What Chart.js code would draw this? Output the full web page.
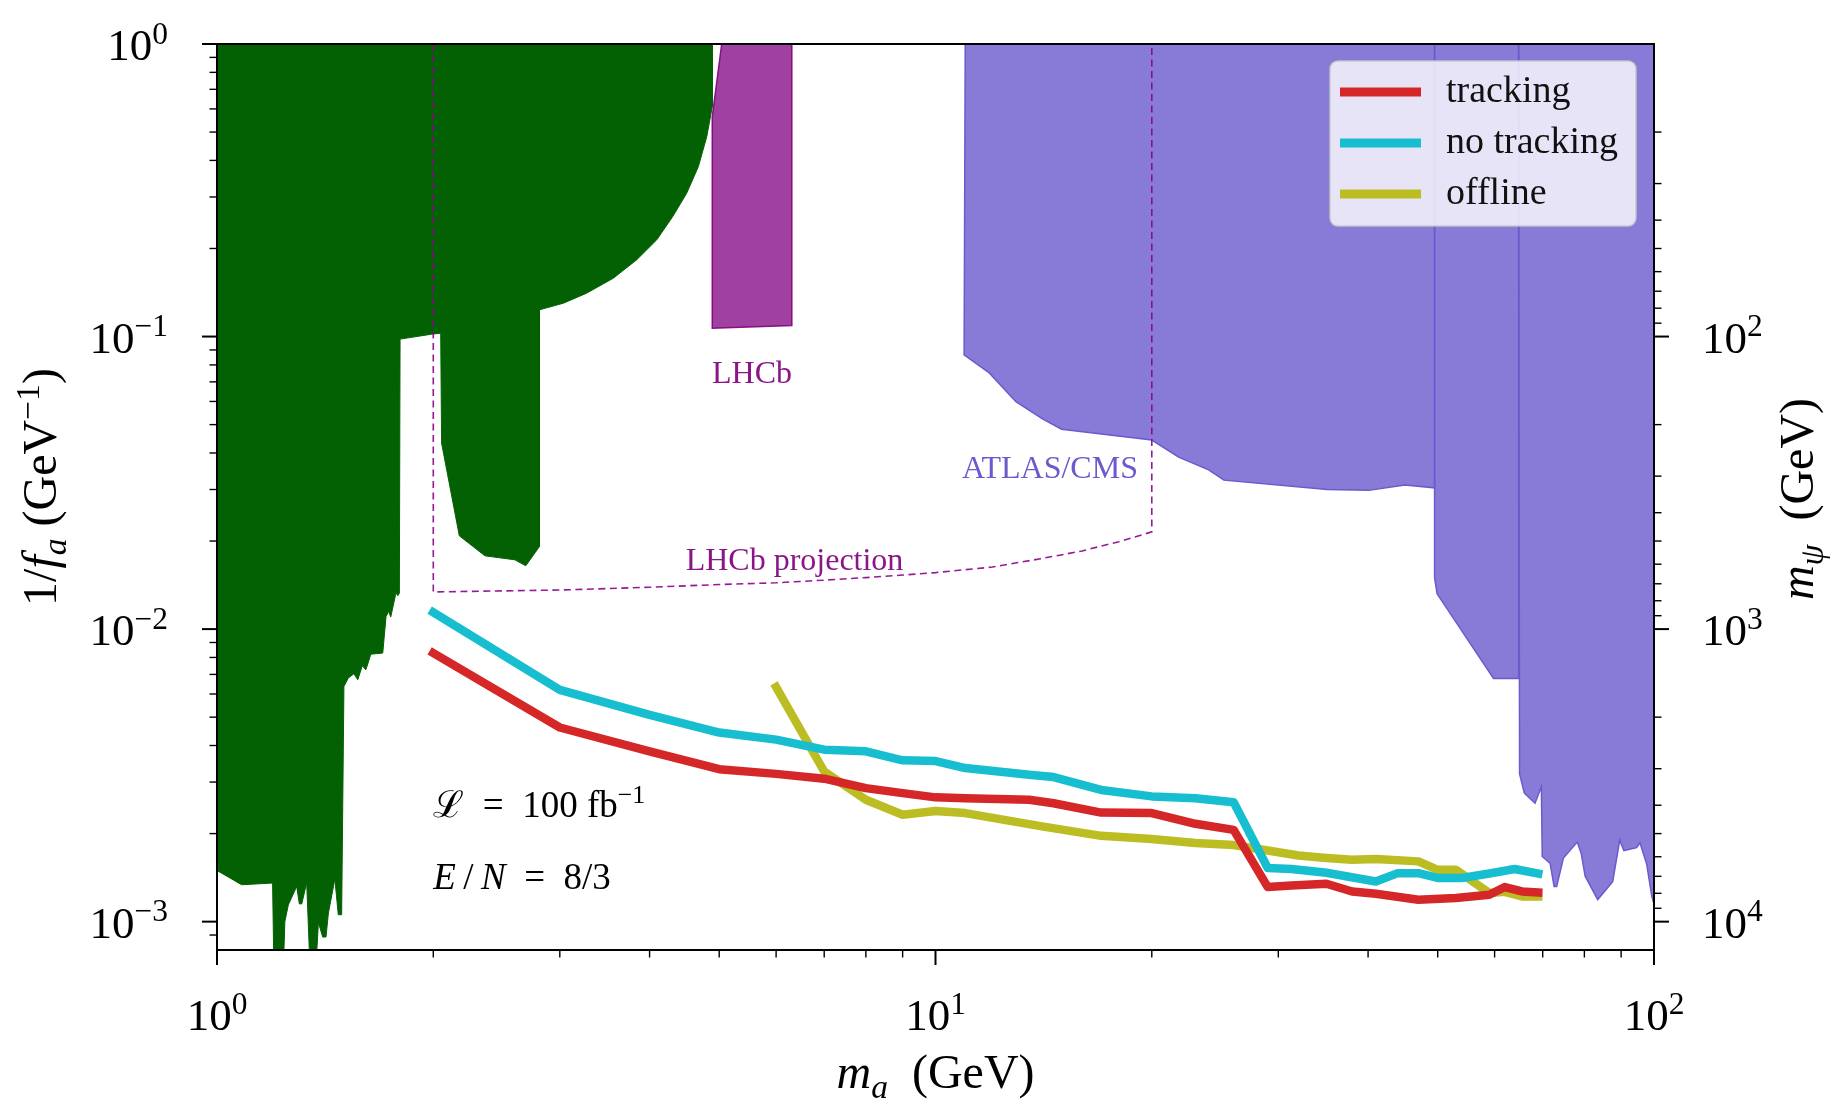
<!DOCTYPE html>
<html>
<head>
<meta charset="utf-8">
<title>Axion reach: 1/f_a versus m_a</title>
<script src="https://cdn.jsdelivr.net/npm/chart.js@4.4.0/dist/chart.umd.min.js"></script>
<style>
  html, body { margin: 0; padding: 0; background: #ffffff; }
  canvas { display: block; }
</style>
</head>
<body>
<canvas id="reach" width="1831" height="1103"></canvas>
<script>
// ---------------------------------------------------------------------------
// Projected reach on 1/f_a (GeV^-1) versus axion mass m_a (GeV)
// ---------------------------------------------------------------------------

// Trigger strategies (L = 100 fb^-1, E/N = 8/3)
const massTracking  = [2, 3, 4, 5, 6, 7, 8, 9, 10, 11, 13.5, 14.6, 17, 20, 23, 26, 29, 31.3, 35, 38, 41, 47, 53, 59, 62, 65.5, 69];
const reachTracking = [0.00828, 0.00461, 0.00382, 0.00332, 0.00320, 0.00308, 0.00286, 0.00275, 0.00266, 0.00264, 0.00261, 0.00254,
                       0.00236, 0.00235, 0.00216, 0.00206, 0.001313, 0.00133, 0.001347, 0.001268, 0.001245, 0.001188, 0.001204,
                       0.001236, 0.001313, 0.001268, 0.001258];

const massNoTracking  = [2, 3, 4, 5, 6, 7, 8, 9, 10, 11, 13.5, 14.6, 17, 20, 23, 26, 29, 31.3, 35, 41, 44, 47, 50, 54, 59, 64, 69];
const reachNoTracking = [0.0114, 0.0062, 0.00509, 0.00443, 0.00419, 0.00387, 0.00382, 0.00356, 0.00354, 0.00335, 0.00318, 0.00312,
                         0.00282, 0.00268, 0.00264, 0.00256, 0.001525, 0.001513, 0.00147, 0.001372, 0.001465, 0.001465, 0.00141,
                         0.00141, 0.00146, 0.001513, 0.00146];

const massOffline  = [6, 7, 8, 9, 10, 11, 14, 17, 20, 23, 26, 29, 32, 35, 38, 41, 47, 50, 53, 59, 62, 65.5, 69];
const reachOffline = [0.00634, 0.00326, 0.00261, 0.00232, 0.00239, 0.00235, 0.00212, 0.001965, 0.001916, 0.001856, 0.001827,
                      0.00175, 0.001683, 0.00165, 0.001627, 0.001637, 0.001607, 0.001504, 0.001504, 0.001252, 0.001265, 0.00122, 0.00122];

// LHCb projection (dashed contour)
const massLhcbProj  = [2, 2, 3, 4, 5, 6, 7, 8, 9, 10, 12, 14, 16, 18, 20, 20];
const reachLhcbProj = [1, 0.0134, 0.0136, 0.0139, 0.0142, 0.0144, 0.0147, 0.0150, 0.0153, 0.0156, 0.0163, 0.0174, 0.0185, 0.0199, 0.0215, 1];

// LHCb excluded band
const massLhcb  = [5.04, 4.89, 4.89, 6.31, 6.31];
const reachLhcb = [1, 0.565, 0.1068, 0.109, 1];

// ATLAS/CMS excluded regions (three overlapping patches)
const massAtlasA  = [11, 10.96, 11.88, 12.94, 14.09, 14.98, 20, 21.8, 24.0, 25.2, 35.1, 40.1, 45.0, 49.5, 49.5];
const reachAtlasA = [1, 0.0865, 0.0751, 0.0599, 0.0523, 0.0482, 0.0443, 0.0387, 0.0350, 0.0323, 0.0300, 0.0298, 0.0311, 0.0304, 1];

const massAtlasB  = [49.5, 49.5, 49.9, 59.8, 64.8, 64.8];
const reachAtlasB = [1, 0.0150, 0.0132, 0.00678, 0.00678, 1];

const massAtlasC  = [64.8, 65.0, 66.0, 68.3, 69.7, 69.9, 71.7, 72.6, 73.2, 74.8, 78.2, 79.2, 80.2, 83.5, 87.6, 89.6, 90.8,
                     94.6, 95.6, 97.7, 99.3, 100, 100];
const reachAtlasC = [1, 0.0032, 0.00275, 0.00254, 0.0029, 0.00167, 0.00158, 0.00132, 0.00132, 0.00165, 0.00187, 0.00171,
                     0.00143, 0.00119, 0.00137, 0.0019, 0.00175, 0.00179, 0.00186, 0.00157, 0.00122, 0.00115, 1];

// Existing low-mass constraints (green)
const massLowMass  = [1, 4.89, 4.89, 4.805, 4.677, 4.505, 4.308, 4.093, 3.838, 3.561, 3.269, 3.034, 2.81, 2.81, 2.69, 2.598,
                      2.36, 2.174, 2.054, 2.048, 1.99, 1.798, 1.794, 1.785, 1.775, 1.745, 1.734, 1.719, 1.701, 1.637, 1.624,
                      1.611, 1.593, 1.570, 1.551, 1.523, 1.502, 1.491, 1.475, 1.459, 1.429, 1.418, 1.403, 1.384, 1.373, 1.347,
                      1.333, 1.312, 1.302, 1.291, 1.257, 1.243, 1.237, 1.200, 1.195, 1.082, 1];
const reachLowMass = [1, 1, 0.611, 0.4826, 0.381, 0.309, 0.2571, 0.2141, 0.1829, 0.1583, 0.1407, 0.130, 0.1234, 0.01915,
                      0.01646, 0.01725, 0.0178, 0.02084, 0.0432, 0.1027, 0.1019, 0.098, 0.01327, 0.0130, 0.01334, 0.01099,
                      0.01149, 0.01104, 0.00828, 0.00821, 0.00769, 0.00726, 0.00749, 0.00671, 0.00704, 0.0068, 0.00637,
                      0.001056, 0.001056, 0.0014, 0.00107, 0.000886, 0.000886, 0.000994, 0.0007, 0.0007, 0.00136, 0.00115,
                      0.00115, 0.00132, 0.001142, 0.001002, 0.0007, 0.0007, 0.001355, 0.001337, 0.001496];

// Axis ticks and labels
const xMajorTicks  = [1, 10, 100];
const xMinorTicks  = [2, 3, 4, 5, 6, 7, 8, 9, 20, 30, 40, 50, 60, 70, 80, 90];
const xTickLabels  = ['10^0', '10^1', '10^2'];
const yMajorTicks  = [1, 0.1, 0.01, 0.001];
const yMinorTicks  = [0.9, 0.8, 0.7, 0.6, 0.5, 0.4, 0.3, 0.2, 0.09, 0.08, 0.07, 0.06, 0.05, 0.04, 0.03, 0.02,
                      0.009, 0.008, 0.007, 0.006, 0.005, 0.004, 0.003, 0.002, 0.0009];
const yTickLabels  = ['10^0', '10^\u22121', '10^\u22122', '10^\u22123'];
const y2MajorTicks = [100, 1000, 10000];
const y2MinorTicks = [20, 30, 40, 50, 60, 70, 80, 90, 200, 300, 400, 500, 600, 700, 800, 900,
                      2000, 3000, 4000, 5000, 6000, 7000, 8000, 9000];
const y2TickLabels = ['10^2', '10^3', '10^4'];

// Axis ranges: m_psi = 10 GeV^2 / (1/f_a), so the right axis mirrors the left one
const xRange  = [1, 100];
const yRange  = [8e-4, 1];
const y2Range = [10, 12500];

// ---------------------------------------------------------------------------
const FONT_FAMILY = '"Liberation Serif", "DejaVu Serif", serif';
const font = (size, italic) => (italic ? 'italic ' : '') + size + 'px ' + FONT_FAMILY;

function layoutRich(ctx, segs, size) {
  let w = 0;
  const parts = segs.map(s => {
    const fs = (s.sup || s.sub) ? size * 0.7 : size;
    ctx.font = font(fs, s.it);
    const pw = ctx.measureText(s.t).width;
    const p = { t: s.t, it: s.it, fs, dx: w, dy: s.sup ? -size * 0.36 : (s.sub ? size * 0.2 : 0) };
    w += pw;
    return p;
  });
  return { parts, width: w };
}

function drawRich(ctx, segs, x, y, size, align) {
  const { parts, width } = layoutRich(ctx, segs, size);
  const x0 = align === 'center' ? x - width / 2 : (align === 'right' ? x - width : x);
  ctx.textAlign = 'left';
  ctx.textBaseline = 'alphabetic';
  parts.forEach(p => {
    ctx.font = font(p.fs, p.it);
    ctx.fillText(p.t, x0 + p.dx, y + p.dy);
  });
}

const powerSegs = label => {
  const [base, exp] = label.split('^');
  return [{ t: base }, { t: exp, sup: true }];
};

const toPoints = (xs, ys) => xs.map((x, i) => ({ x, y: ys[i] }));

// Axes frame, log ticks, tick labels, axis titles and in-plot annotations
const axesDecor = {
  id: 'axesDecor',
  afterDatasetsDraw(chart) {
    const { ctx, chartArea: a, scales } = chart;
    const sx = scales.x, sy = scales.y, sy2 = scales.y2;
    ctx.save();
    ctx.strokeStyle = '#000';
    ctx.fillStyle = '#000';
    ctx.lineCap = 'butt';
    const tick = (px, py, dx, dy, w) => {
      ctx.lineWidth = w;
      ctx.beginPath();
      ctx.moveTo(px, py);
      ctx.lineTo(px + dx, py + dy);
      ctx.stroke();
    };
    xMajorTicks.forEach(v => tick(sx.getPixelForValue(v), a.bottom, 0, 15, 2));
    xMinorTicks.forEach(v => tick(sx.getPixelForValue(v), a.bottom, 0, 7.5, 1.4));
    yMajorTicks.forEach(v => tick(a.left, sy.getPixelForValue(v), -15, 0, 2));
    yMinorTicks.forEach(v => tick(a.left, sy.getPixelForValue(v), -7.5, 0, 1.4));
    y2MajorTicks.forEach(v => tick(a.right, sy2.getPixelForValue(v), 15, 0, 2));
    y2MinorTicks.forEach(v => tick(a.right, sy2.getPixelForValue(v), 7.5, 0, 1.4));

    ctx.lineWidth = 2;
    ctx.strokeRect(a.left, a.top, a.right - a.left, a.bottom - a.top);

    const TICK_SIZE = 45;
    xMajorTicks.forEach((v, i) =>
      drawRich(ctx, powerSegs(xTickLabels[i]), sx.getPixelForValue(v), a.bottom + 80, TICK_SIZE, 'center'));
    yMajorTicks.forEach((v, i) =>
      drawRich(ctx, powerSegs(yTickLabels[i]), a.left - 49, sy.getPixelForValue(v) + 16, TICK_SIZE, 'right'));
    y2MajorTicks.forEach((v, i) =>
      drawRich(ctx, powerSegs(y2TickLabels[i]), a.right + 48, sy2.getPixelForValue(v) + 16, TICK_SIZE, 'left'));

    // axis titles
    const TITLE_SIZE = 48;
    const midX = (a.left + a.right) / 2, midY = (a.top + a.bottom) / 2;
    drawRich(ctx, [{ t: 'm', it: true }, { t: 'a', it: true, sub: true }, { t: '\u2002(GeV)' }],
      midX, a.bottom + 138, TITLE_SIZE, 'center');

    ctx.save();
    ctx.translate(a.left - 161, midY - 10);
    ctx.rotate(-Math.PI / 2);
    drawRich(ctx, [{ t: '1/' }, { t: 'f', it: true }, { t: 'a', it: true, sub: true }, { t: ' (GeV' },
                   { t: '\u22121', sup: true }, { t: ')' }], 0, 0, TITLE_SIZE, 'center');
    ctx.restore();

    ctx.save();
    ctx.translate(a.right + 159, midY + 2);
    ctx.rotate(-Math.PI / 2);
    drawRich(ctx, [{ t: 'm', it: true }, { t: '\u03c8', it: true, sub: true }, { t: '\u2002(GeV)' }],
      0, 0, TITLE_SIZE, 'center');
    ctx.restore();

    // region labels
    ctx.fillStyle = '#8a1688';
    drawRich(ctx, [{ t: 'LHCb' }], sx.getPixelForValue(5.555), sy.getPixelForValue(0.0695), 32, 'center');
    drawRich(ctx, [{ t: 'LHCb projection' }], sx.getPixelForValue(4.49), sy.getPixelForValue(0.01594), 32, 'left');
    ctx.fillStyle = '#6a5acd';
    drawRich(ctx, [{ t: 'ATLAS/CMS' }], sx.getPixelForValue(14.43), sy.getPixelForValue(0.0329), 32, 'center');

    // luminosity and anomaly ratio
    ctx.fillStyle = '#000';
    drawRich(ctx, [{ t: '\u2112' }, { t: '\u2002=\u2002100 fb' }, { t: '\u22121', sup: true }],
      sx.getPixelForValue(2.0), sy.getPixelForValue(0.002283), 37, 'left');
    drawRich(ctx, [{ t: 'E', it: true }, { t: '\u2009/\u2009' }, { t: 'N', it: true }, { t: '\u2002=\u20028/3' }],
      sx.getPixelForValue(2.0), sy.getPixelForValue(0.001296), 37, 'left');
    ctx.restore();
  }
};

// Framed legend for the three trigger strategies
const boxLegend = {
  id: 'boxLegend',
  afterDraw(chart) {
    const { ctx, chartArea: a } = chart;
    const items = chart.data.datasets.filter(d => d.inLegend);
    const w = 306, rowH = 51;
    const h = items.length * rowH + 12;
    const x0 = a.right - 324, y0 = a.top + 17;
    ctx.save();
    ctx.beginPath();
    ctx.roundRect(x0, y0, w, h, 8);
    ctx.fillStyle = 'rgba(255,255,255,0.8)';
    ctx.fill();
    ctx.lineWidth = 1.5;
    ctx.strokeStyle = 'rgba(200,200,200,0.9)';
    ctx.stroke();
    items.forEach((d, i) => {
      const cy = y0 + 31 + i * rowH;
      ctx.strokeStyle = d.borderColor;
      ctx.lineWidth = 9;
      ctx.lineCap = 'butt';
      ctx.beginPath();
      ctx.moveTo(x0 + 10, cy);
      ctx.lineTo(x0 + 91, cy);
      ctx.stroke();
      ctx.fillStyle = '#111';
      ctx.font = font(38, false);
      ctx.textAlign = 'left';
      ctx.textBaseline = 'middle';
      ctx.fillText(d.label, x0 + 116, cy);
    });
    ctx.restore();
  }
};

const curve = (label, xs, ys, color) => ({
  label, inLegend: true,
  data: toPoints(xs, ys),
  showLine: true, fill: false,
  borderColor: color, backgroundColor: color,
  borderWidth: 8.5, borderCapStyle: 'square', borderJoinStyle: 'round',
  pointRadius: 0, pointHoverRadius: 0, tension: 0
});

const region = (label, xs, ys, fillColor, edgeColor, edgeWidth) => ({
  label,
  data: toPoints(xs, ys),
  showLine: true, fill: 'shape',
  backgroundColor: fillColor, borderColor: edgeColor, borderWidth: edgeWidth,
  borderJoinStyle: 'miter',
  pointRadius: 0, pointHoverRadius: 0, tension: 0
});

new Chart(document.getElementById('reach'), {
  type: 'scatter',
  data: {
    datasets: [
      curve('tracking', massTracking, reachTracking, '#d62728'),
      curve('no tracking', massNoTracking, reachNoTracking, '#17becf'),
      curve('offline', massOffline, reachOffline, '#bcbd22'),
      {
        label: 'LHCb projection',
        data: toPoints(massLhcbProj, reachLhcbProj),
        showLine: true, fill: false,
        borderColor: 'rgba(140,0,140,0.9)', borderWidth: 1.6, borderDash: [7, 4.5],
        pointRadius: 0, pointHoverRadius: 0, tension: 0
      },
      region('LHCb', massLhcb, reachLhcb, 'rgba(128,0,128,0.75)', 'rgba(128,0,128,0.9)', 1.5),
      region('ATLAS/CMS', massAtlasA, reachAtlasA, 'rgba(106,90,205,0.8)', 'rgba(106,90,205,1)', 1.5),
      region('ATLAS/CMS', massAtlasB, reachAtlasB, 'rgba(106,90,205,0.8)', 'rgba(106,90,205,1)', 1.5),
      region('ATLAS/CMS', massAtlasC, reachAtlasC, 'rgba(106,90,205,0.8)', 'rgba(106,90,205,1)', 1.5),
      region('low-mass bounds', massLowMass, reachLowMass, '#036103', '#036103', 1)
    ]
  },
  options: {
    responsive: false,
    animation: false,
    devicePixelRatio: 1,
    events: [],
    layout: { padding: { left: 0, right: 0, top: 44, bottom: 0 } },
    plugins: { legend: { display: false }, tooltip: { enabled: false } },
    scales: {
      x: {
        type: 'logarithmic', position: 'bottom', min: xRange[0], max: xRange[1],
        ticks: { display: false }, grid: { display: false }, border: { display: false },
        afterFit: s => { s.height = 153; }
      },
      y: {
        type: 'logarithmic', position: 'left', min: yRange[0], max: yRange[1],
        ticks: { display: false }, grid: { display: false }, border: { display: false },
        afterFit: s => { s.width = 217; }
      },
      y2: {
        type: 'logarithmic', position: 'right', reverse: true, min: y2Range[0], max: y2Range[1],
        ticks: { display: false }, grid: { display: false }, border: { display: false },
        afterFit: s => { s.width = 177; }
      }
    }
  },
  plugins: [axesDecor, boxLegend]
});
</script>
</body>
</html>
